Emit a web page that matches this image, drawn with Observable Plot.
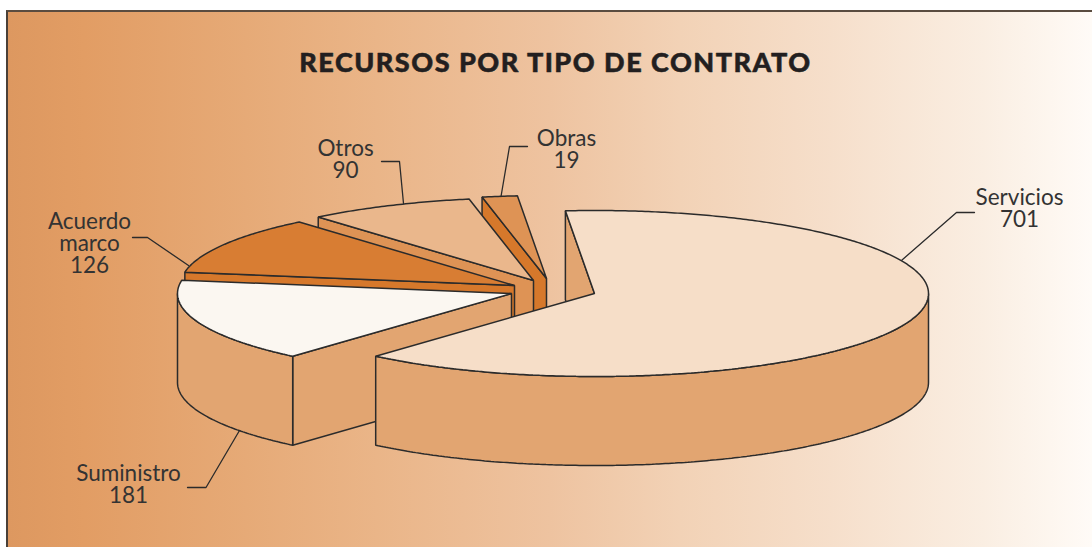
<!DOCTYPE html>
<html lang="es">
<head>
<meta charset="utf-8">
<script src="https://cdn.jsdelivr.net/npm/d3@7"></script>
<script src="https://cdn.jsdelivr.net/npm/@observablehq/plot@0.6"></script>
<style>
  html, body { margin: 0; padding: 0; background: #fff; overflow: hidden; }
  #chart { position: relative; width: 1092px; height: 547px; }
  #panel {
    position: absolute; left: 6px; top: 10px; right: 0; bottom: 0;
    border-left: 2px solid #4a4038; border-top: 2px solid #5a4c40;
    background: linear-gradient(90deg, #dd9860 0, #e29d64 7%, #e6aa77 22%, #eab588 34%, #eec3a0 50%, #f2d2b6 62%, #f6dfcb 76%, #faeee2 90%, #fffbf7 100%);
  }
  #chart svg { position: absolute; left: 0; top: 0; }
</style>
</head>
<body>
<div id="chart"><div id="panel"></div></div>
<script>
// Datos
const titulo = "RECURSOS POR TIPO DE CONTRATO";
const tipos = ["Servicios", "Suministro", "Acuerdo marco", "Otros", "Obras"];
const valores = [701, 181, 126, 90, 19];

// Estilo de cada porción
const colorTapa = ["#f6dec8", "#fbf7f1", "#d87d33", "#eab78c", "#de9355"];
const colorLado = ["#e2a571", "#e2a571", "#d6782b", "#de9355", "#d6782b"];
const colorTexto = "#333333";
const colorLinea = "#2b2b2b";

// Geometría de la tarta en perspectiva
const rx = 334, ry = 83, fondo = 89;
const inicio = -5 * Math.PI / 180;
const vertices = [[594, 293], [511, 293], [514, 285], [533, 280], [546, 278]];

// Anotaciones
const guias = [
  [[901.5, 259.5], [956, 212], [974, 212]],
  [[239, 430], [205.5, 487], [187, 487]],
  [[188, 265], [147, 237], [132, 237]],
  [[403, 203], [399, 161], [381, 161]],
  [[500.5, 196], [509, 146], [527, 146]]
];
const rotulos = [[1019, 208], [128, 484], [89, 243.5], [345, 159], [566, 149]];

const porciones = d3.pie().sort(null).value(d => d)
  .startAngle(inicio).endAngle(inicio + 2 * Math.PI)(valores);

const borde = (v, t, baja = 0) => ({
  x: v[0] + rx * Math.sin(t),
  y: v[1] - ry * Math.cos(t) + baja
});
const arco = (v, a, b, baja = 0) => {
  const n = Math.max(1, Math.ceil(Math.abs(b - a) / 0.01));
  return d3.range(n + 1).map(i => borde(v, a + (b - a) * i / n, baja));
};
const centro = (v, baja = 0) => ({x: v[0], y: v[1] + baja});

const poligono = (puntos, fill) => Plot.line(puntos, {
  x: "x", y: "y", fill, stroke: colorLinea, strokeWidth: 1.5,
  strokeLinejoin: "miter", curve: "linear-closed"
});

// De atrás hacia delante: pared radial, pared exterior y tapa
const orden = [4, 3, 2, 1, 0];
const caras = orden.flatMap(i => {
  const {startAngle: a, endAngle: b} = porciones[i];
  const v = vertices[i];
  const marks = [];
  marks.push(poligono([centro(v), borde(v, a), borde(v, a, fondo), centro(v, fondo)], colorLado[i]));
  const f0 = Math.max(a, Math.PI / 2), f1 = Math.min(b, 3 * Math.PI / 2);
  if (f1 > f0) {
    marks.push(poligono([...arco(v, f0, f1), ...arco(v, f1, f0, fondo)], colorLado[i]));
  }
  marks.push(poligono([centro(v), ...arco(v, a, b)], colorTapa[i]));
  return marks;
});

const filasRotulos = tipos.map((t, i) => ({
  x: rotulos[i][0], y: rotulos[i][1],
  texto: `${t.replace(" ", "\n")}\n${valores[i]}`
}));

const chart = Plot.plot({
  width: 1092,
  height: 547,
  margin: 0,
  x: {type: "linear", domain: [0, 1092], range: [0, 1092], axis: null},
  y: {type: "linear", domain: [0, 547], range: [0, 547], axis: null},
  style: {background: "transparent", overflow: "visible"},
  marks: [
    ...caras,
    ...guias.map(g => Plot.line(g, {x: d => d[0], y: d => d[1], stroke: colorLinea, strokeWidth: 1.3})),
    Plot.text(filasRotulos, {
      x: "x", y: "y", text: "texto", lineHeight: 0.978, lineAnchor: "middle",
      fontFamily: "Lato", fontSize: 22.5, fill: colorTexto
    }),
    Plot.text([titulo], {
      x: () => 555, y: () => 62.5, text: d => d, lineAnchor: "middle",
      fontFamily: "Lato", fontWeight: 900, fontSize: 27, fill: "#231f20",
      stroke: "#231f20", strokeWidth: 0.5
    })
  ]
});
d3.select(chart).selectAll("text")
  .filter(function () { return this.textContent === titulo; })
  .style("letter-spacing", "1.5px");
document.getElementById("chart").appendChild(chart);
</script>
</body>
</html>
